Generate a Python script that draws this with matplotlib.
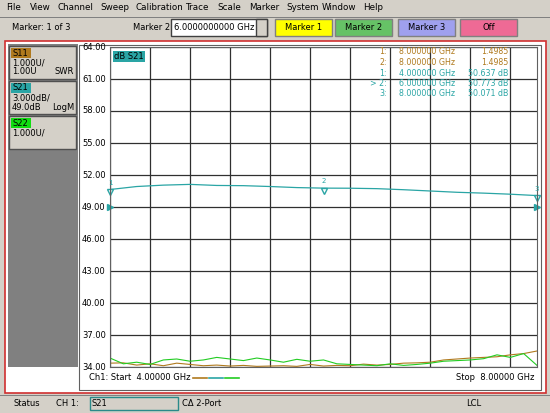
import matplotlib.pyplot as plt
from matplotlib.patches import Rectangle
import numpy as np

W, H = 550, 413

freq_s21 = [4.0, 4.25, 4.5, 4.75, 5.0, 5.25, 5.5, 5.75, 6.0, 6.25, 6.5, 6.75,
            7.0, 7.25, 7.5, 7.75, 8.0]
s21_db = [50.64, 50.92, 51.05, 51.12, 51.02, 51.0, 50.92, 50.82, 50.77, 50.76,
          50.72, 50.62, 50.5, 50.38, 50.3, 50.2, 50.07]

freq_swr = [4.0, 4.125, 4.25, 4.375, 4.5, 4.625, 4.75, 4.875, 5.0, 5.125, 5.25,
            5.375, 5.5, 5.625, 5.75, 5.875, 6.0, 6.125, 6.25, 6.375, 6.5,
            6.625, 6.75, 6.875, 7.0, 7.125, 7.25, 7.375, 7.5, 7.625, 7.75,
            7.875, 8.0]
s11_swr = [1.12, 1.13, 1.06, 1.10, 1.04, 1.12, 1.08, 1.04, 1.06, 1.03, 1.05,
           1.02, 1.03, 1.04, 1.02, 1.08, 1.03, 1.05, 1.04, 1.09, 1.06, 1.08,
           1.12, 1.13, 1.15, 1.22, 1.25, 1.28, 1.30, 1.32, 1.38, 1.42, 1.50]
s22_swr = [1.28, 1.10, 1.15, 1.08, 1.22, 1.25, 1.18, 1.22, 1.30, 1.25, 1.20,
           1.28, 1.22, 1.15, 1.24, 1.18, 1.22, 1.10, 1.08, 1.06, 1.04, 1.10,
           1.05, 1.08, 1.12, 1.18, 1.20, 1.22, 1.26, 1.38, 1.30, 1.42, 1.05]

y_ticks = [64, 61, 58, 55, 52, 49, 46, 43, 40, 37, 34]

GRAY = "#d4d0c8"
TEAL = "#2aa5a5"
BROWN = "#b07a1e"
GREEN = "#22cc22"
FS = 6

fig = plt.figure(figsize=(W / 100, H / 100), dpi=100)
fig.patch.set_facecolor(GRAY)


def box(x, y, w, h, fc, ec="none", lw=1.0):
    fig.patches.append(Rectangle((x / W, 1 - (y + h) / H), w / W, h / H,
                                 transform=fig.transFigure, fc=fc, ec=ec, lw=lw,
                                 zorder=-5))


def txt(x, y, s, color="black", size=FS, ha="left", **kw):
    fig.text(x / W, 1 - y / H, s, color=color, fontsize=size, ha=ha, va="center",
             family="DejaVu Sans", zorder=5, **kw)


# menu bar
for x, s in [(6, "File"), (30, "View"), (58, "Channel"), (100, "Sweep"),
             (136, "Calibration"), (185, "Trace"), (217, "Scale"),
             (249, "Marker"), (286, "System"), (322, "Window"), (363, "Help")]:
    txt(x, 8, s, size=6.3)
box(0, 17, W, 1, "#808080")

# toolbar
txt(12, 28, "Marker: 1 of 3")
txt(133, 28, "Marker 2")
box(171, 19, 96, 17, "white", "#404040")
txt(174, 28, "6.0000000000 GHz")
box(256, 19, 11, 17, GRAY, "#404040")
for x, c, s in [(275, "#ffff00", "Marker 1"), (335, "#66c266", "Marker 2"),
                (398, "#9fa0ee", "Marker 3"), (460, "#ee6a95", "Off")]:
    box(x, 19, 57, 17, c, "#808080")
    txt(x + 28.5, 28, s, ha="center")

# main frame
box(5, 41, 541, 352, "white", "#d03030", 1.2)
box(8, 44, 70, 323, "#808080")
box(79, 45, 462, 345, "white", "#606060", 0.8)

# trace boxes on the left
for y0, lab, col, l1, l2, r2 in [(46, "S11", BROWN, "1.000U/", "1.00U", "SWR"),
                                   (81, "S21", TEAL, "3.000dB/", "49.0dB", "LogM"),
                                   (116, "S22", "#11dd11", "1.000U/", "", "")]:
    box(9, y0, 67, 33, GRAY, "#505050")
    box(11, y0 + 2, 20, 10, col)
    txt(12, y0 + 7, lab)
    txt(12, y0 + 17, l1)
    txt(12, y0 + 26, l2)
    txt(74, y0 + 26, r2, ha="right")

# plot area (grid pitch is 40 px, so the last column is narrower)
ax = fig.add_axes([110 / W, 1 - 367 / H, 427 / W, 320 / H], zorder=2)
ax.set_xlim(4.0, 8.0)
ax.set_ylim(34, 64)
ax.set_xticks(4.0 + np.arange(11) * 40 * 4.0 / 427)
ax.set_yticks(y_ticks)
ax.grid(True, color="#303030", lw=0.9)
ax.tick_params(length=0, labelbottom=False, labelleft=False)
for sp in ax.spines.values():
    sp.set_color("#606060")
for v in y_ticks:
    fig.text(82 / W, 1 - (367 - (v - 34) / 30 * 320) / H, f"{v:.2f}",
             fontsize=FS, va="center", ha="left")

# SWR traces drawn on 1U/div from 1.00U at the bottom line
swr_to_db = lambda v: 34 + (np.array(v) - 1.0) * 3.0
ax.plot(freq_swr, swr_to_db(s11_swr), color=BROWN, lw=0.8)
ax.plot(freq_swr, swr_to_db(s22_swr), color=GREEN, lw=0.8)
ax.plot(freq_s21, s21_db, color=TEAL, lw=0.9)
for f, m in [(4.0, "1"), (6.0, "2"), (8.0, "3")]:
    v = np.interp(f, freq_s21, s21_db)
    ax.plot(f, v - 0.25, marker="v", ms=5, mfc="none", mec=TEAL, clip_on=False)
    ax.text(f, v + 0.45, m, color=TEAL, fontsize=5, ha="center")
ax.plot([4.0, 8.0], [49, 49], ls="none", marker=">", color=TEAL, ms=4, clip_on=False)

ax.text(0.01, 0.985, "dB S21", transform=ax.transAxes, fontsize=FS, va="top",
        bbox=dict(fc=TEAL, ec="none", pad=0.6))
rows = [("1:", "8.000000 GHz", "1.4985", BROWN),
        ("2:", "8.000000 GHz", "1.4985", BROWN),
        ("1:", "4.000000 GHz", "50.637 dB", TEAL),
        ("> 2:", "6.000000 GHz", "50.773 dB", TEAL),
        ("3:", "8.000000 GHz", "50.071 dB", TEAL)]
for i, (a, b, c, col) in enumerate(rows):
    y = 52 + i * 10.5
    txt(387, y, a, col, 5.7, ha="right")
    txt(399, y, b, col, 5.7)
    txt(508, y, c, col, 5.7, ha="right")

# channel line
txt(89, 378, "Ch1: Start  4.00000 GHz")
for x0, c in [(193, BROWN), (209, TEAL), (225, GREEN)]:
    fig.lines.append(plt.Line2D([x0 / W, (x0 + 14) / W], [1 - 378 / H] * 2,
                                color=c, lw=1.2, transform=fig.transFigure))
txt(534, 378, "Stop  8.00000 GHz", ha="right")

# status bar
box(0, 395, W, 1, "#808080")
txt(14, 404, "Status")
txt(56, 404, "CH 1:")
box(90, 397, 88, 13, GRAY, "#2a8a8a")
txt(92, 404, "S21")
txt(182, 404, "CΔ 2-Port")
txt(466, 404, "LCL")

fig.savefig("out.png", dpi=100, facecolor=fig.get_facecolor())
